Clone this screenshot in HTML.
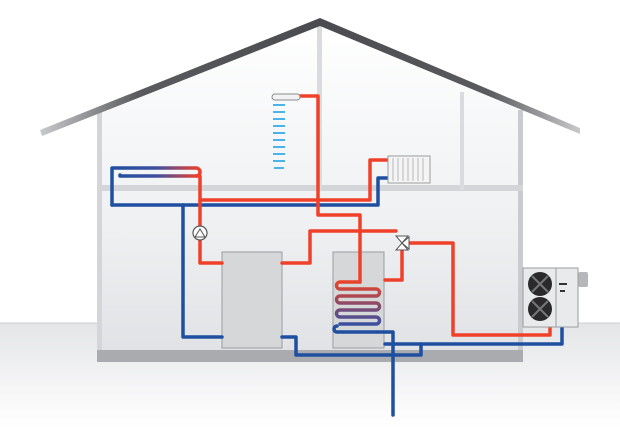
<!DOCTYPE html>
<html><head><style>html,body{margin:0;padding:0;background:#fff}svg{display:block}</style></head>
<body>
<svg width="620" height="427" viewBox="0 0 620 427" xmlns="http://www.w3.org/2000/svg">
<defs>
<linearGradient id="gnd" x1="0" y1="0" x2="0" y2="1"><stop offset="0" stop-color="#e4e5e7"/><stop offset="1" stop-color="#ffffff"/></linearGradient>
<linearGradient id="int" x1="0" y1="0" x2="0" y2="1"><stop offset="0" stop-color="#ffffff"/><stop offset="0.6" stop-color="#eef0f2"/><stop offset="1" stop-color="#dfe1e4"/></linearGradient>
<linearGradient id="roofL" x1="0" y1="0" x2="1" y2="0"><stop offset="0" stop-color="#c8c9cb"/><stop offset="0.35" stop-color="#5a5b5e"/><stop offset="1" stop-color="#4a4b4e"/></linearGradient>
<linearGradient id="roofR" x1="0" y1="0" x2="1" y2="0"><stop offset="0" stop-color="#4a4b4e"/><stop offset="0.65" stop-color="#5a5b5e"/><stop offset="1" stop-color="#c8c9cb"/></linearGradient>
<linearGradient id="coil" x1="0" y1="0" x2="0" y2="1"><stop offset="0" stop-color="#e8432a"/><stop offset="1" stop-color="#3a4fa0"/></linearGradient>
<linearGradient id="ufh" x1="0" y1="0" x2="1" y2="0"><stop offset="0" stop-color="#1f4fa0"/><stop offset="0.5" stop-color="#3d4fa0"/><stop offset="1" stop-color="#f0402a"/></linearGradient>
</defs>
<rect x="0" y="323" width="620" height="104" fill="url(#gnd)"/>
<line x1="0" y1="323" x2="620" y2="323" stroke="#cfd0d2" stroke-width="1"/>
<!-- house interior -->
<polygon points="97,362 97,110 320,22 522,110 522,362" fill="url(#int)"/>
<rect x="97" y="110" width="5" height="252" fill="#d3d5d8"/>
<rect x="518" y="110" width="5" height="252" fill="#c9cbce"/>
<rect x="97" y="350" width="426" height="12" fill="#a9abae"/>
<rect x="97" y="185" width="426" height="6" fill="#d3d5d8"/>
<rect x="317" y="22" width="5" height="168" fill="#d9dbde"/>
<rect x="460" y="92" width="4" height="98" fill="#d9dbde"/>
<!-- roof -->
<polygon points="40,130 320,18 320,26 42,136" fill="url(#roofL)"/>
<polygon points="320,18 580,128 580,134 320,26" fill="url(#roofR)"/>
<!-- tanks -->
<rect x="222" y="252" width="60" height="96" fill="#d6d7d9" stroke="#9a9c9f" stroke-width="1"/>
<rect x="333" y="252" width="51" height="96" fill="#d6d7d9" stroke="#9a9c9f" stroke-width="1"/>
<g fill="none" stroke-linecap="round" stroke-linejoin="round" stroke-width="3.5">
<!-- blue lines -->
<path d="M183,205 V337 H222" stroke="#1f4fa0"/>
<path d="M282,337 H296 V355 H421 V344" stroke="#1f4fa0"/>
<path d="M385,344 H562 V325" stroke="#1f4fa0"/>
<path d="M112,205 H378 V178 H388" stroke="#1f4fa0"/>
<path d="M393,415 V332 H337 a3,3 0 0 1 0,-6" stroke="#1f4fa0"/>
<!-- underfloor -->
<path d="M112,205 V168 H196 a4,4 0 0 1 0,8 H120 a3,3 0 0 1 0,-1" stroke="url(#ufh)"/>
<path d="M118,176 H196" stroke="url(#ufh)" stroke-width="3"/>
<!-- red lines -->
<path d="M196,176 H200 V263 H222" stroke="#f0402a"/>
<path d="M282,263 H310 V231 H396" stroke="#f0402a"/>
<path d="M200,200 H370 V160 H388" stroke="#f0402a"/>
<path d="M300,96 H318 V215 H360 V282" stroke="#f0402a"/>
<path d="M408,243 H453 V335 H550 V325" stroke="#f0402a"/>
<path d="M402,248 V280 H385" stroke="#f0402a"/>
<!-- coil -->
<path d="M360,282 H340 a3.4,3.4 0 0 0 0,7 H376 a3.4,3.4 0 0 1 0,7 H340 a3.4,3.4 0 0 0 0,7 H376 a3.4,3.4 0 0 1 0,7 H340 a3.4,3.4 0 0 0 0,7 H376 a3.4,3.4 0 0 1 0,7 H340" stroke="url(#coil)"/>
</g>
<!-- pump -->
<circle cx="200" cy="233" r="7" fill="#fff" stroke="#555" stroke-width="1.2"/>
<polygon points="195,237 205,237 200,229" fill="none" stroke="#555" stroke-width="1"/>
<!-- valve -->
<polygon points="396,236 408,236 402,243" fill="#fff" stroke="#555"/>
<polygon points="396,250 408,250 402,243" fill="#fff" stroke="#555"/>
<polygon points="409,237 409,249 402,243" fill="#fff" stroke="#555"/>
<!-- radiator -->
<rect x="388" y="156" width="42" height="27" fill="#f4f4f5" stroke="#9a9c9f"/>
<g stroke="#b5b7ba" stroke-width="1"><line x1="393" y1="158" x2="393" y2="181"/><line x1="398" y1="158" x2="398" y2="181"/><line x1="403" y1="158" x2="403" y2="181"/><line x1="408" y1="158" x2="408" y2="181"/><line x1="413" y1="158" x2="413" y2="181"/><line x1="418" y1="158" x2="418" y2="181"/><line x1="423" y1="158" x2="423" y2="181"/></g>
<!-- shower -->
<rect x="272" y="94" width="28" height="6" rx="3" fill="#f2f2f3" stroke="#8a8c8f"/>
<g fill="#4ab3e8">
<rect x="273" y="104" width="12" height="2"/><rect x="273" y="111" width="12" height="2"/><rect x="273" y="118" width="12" height="2"/><rect x="273" y="125" width="12" height="2"/><rect x="273" y="132" width="12" height="2"/><rect x="273" y="139" width="12" height="2"/><rect x="273" y="146" width="12" height="2"/><rect x="273" y="153" width="12" height="2"/><rect x="273" y="160" width="12" height="2"/><rect x="274" y="167" width="10" height="2"/>
</g>
<!-- heat pump -->
<rect x="578" y="272" width="10" height="15" rx="2" fill="#b5b7ba"/>
<rect x="523" y="268" width="55" height="59" fill="#e9eaeb" stroke="#9a9c9f"/>
<line x1="556" y1="268" x2="556" y2="327" stroke="#9a9c9f"/>
<circle cx="540" cy="284" r="12" fill="#2a2a2c"/><circle cx="540" cy="309" r="12" fill="#2a2a2c"/>
<g stroke="#777" stroke-width="2"><line x1="532" y1="276" x2="548" y2="292"/><line x1="548" y1="276" x2="532" y2="292"/><line x1="532" y1="301" x2="548" y2="317"/><line x1="548" y1="301" x2="532" y2="317"/></g>
<rect x="559" y="283" width="8" height="2" fill="#333"/><rect x="560" y="290" width="5" height="2" fill="#333"/>
</svg>
</body></html>
